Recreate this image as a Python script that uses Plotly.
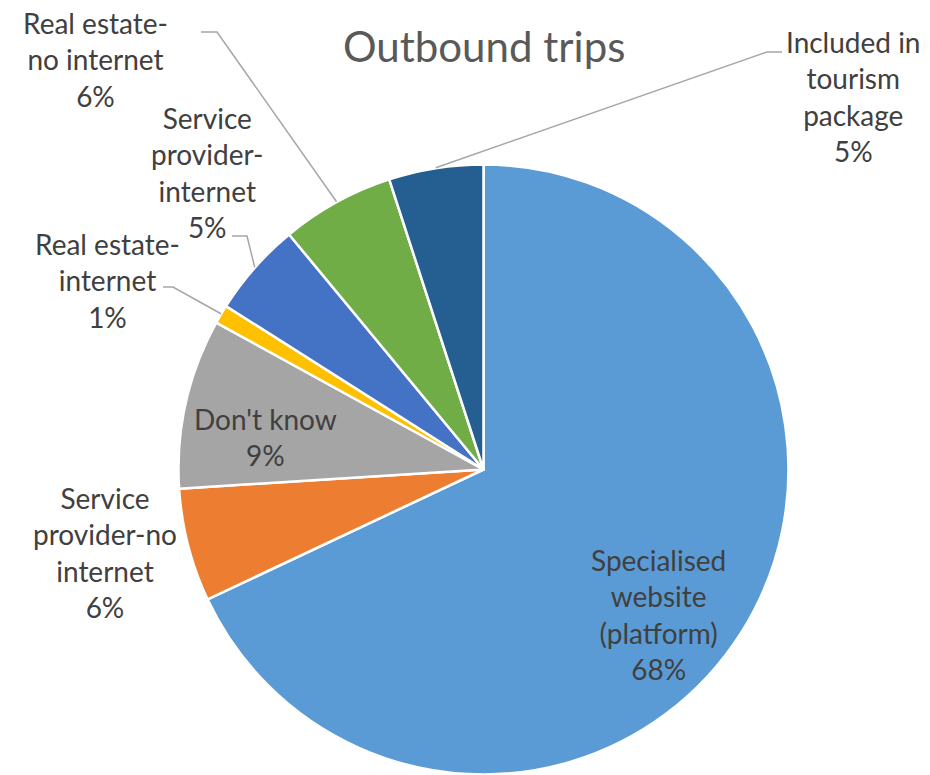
import math
import plotly.graph_objects as go

# ---- data ----
categories = [
    "Specialised website (platform)",
    "Service provider-no internet",
    "Don't know",
    "Real estate-internet",
    "Service provider-internet",
    "Real estate-no internet",
    "Included in tourism package",
]
values = [68, 6, 9, 1, 5, 6, 5]
label_lines = [
    ["Specialised", "website", "(platform)"],
    ["Service", "provider-no", "internet"],
    ["Don't know"],
    ["Real estate-", "internet"],
    ["Service", "provider-", "internet"],
    ["Real estate-", "no internet"],
    ["Included in", "tourism", "package"],
]
colors = ["#5B9BD5", "#ED7D31", "#A5A5A5", "#FFC000", "#4472C4", "#70AD47", "#255E91"]

W, H = 930, 775
FONT = "Lato"
TEXT_COLOR = "#404040"

# pie geometry (pixels)
cx, cy, R = 483.5, 469.0, 305.0

# label block centres (pixels) and leader-line label anchors
label_pos = {
    0: (658, 614),
    1: (105, 552),
    2: (265, 437),
    3: (107, 280),
    4: (207, 172),
    5: (95, 60),
    6: (853, 97),
}
leaders = {  # (start point, elbow point)
    3: ((163, 287), (173, 287)),
    4: ((232, 236), (247, 236)),
    5: ((201, 32), (217, 32)),
    6: ((782, 52), (767, 52)),
}

def px(x):
    return x / W

def py(y):
    return 1 - y / H

fig = go.Figure(
    go.Pie(
        labels=categories,
        values=values,
        sort=False,
        direction="clockwise",
        rotation=0,
        marker=dict(colors=colors, line=dict(color="white", width=2.5)),
        textinfo="none",
        hoverinfo="label+percent",
        domain=dict(x=[px(cx - R), px(cx + R)], y=[0, min(1.0, (H - cy + R) / H)]),
        showlegend=False,
    )
)

total = sum(values)
annotations = []
shapes = []
cum = 0
for i, v in enumerate(values):
    pct = round(100 * v / total)
    text = "<br>".join(label_lines[i] + [f"{pct}%"])
    lx, ly = label_pos[i]
    annotations.append(
        dict(
            x=px(lx), y=py(ly), xref="paper", yref="paper",
            text=text, showarrow=False, xanchor="center", yanchor="middle",
            align="center", font=dict(family=FONT, size=28, color=TEXT_COLOR),
        )
    )
    mid = (cum + v / 2) / total * 2 * math.pi
    cum += v
    if i in leaders:
        (sx, sy), (ex, ey) = leaders[i]
        tx = cx + R * math.sin(mid)
        ty = cy - R * math.cos(mid)
        path = f"M {px(sx)},{py(sy)} L {px(ex)},{py(ey)} L {px(tx)},{py(ty)}"
        shapes.append(
            dict(type="path", xref="paper", yref="paper", path=path,
                 line=dict(color="#A6A6A6", width=1.5))
        )

annotations.append(
    dict(
        x=px(484), y=py(46), xref="paper", yref="paper", text="Outbound trips",
        showarrow=False, xanchor="center", yanchor="middle",
        font=dict(family=FONT, size=42, color="#595959"),
    )
)

fig.update_layout(
    width=W, height=H,
    margin=dict(l=0, r=0, t=0, b=0),
    paper_bgcolor="white",
    plot_bgcolor="white",
    annotations=annotations,
    shapes=shapes,
)

fig.write_html("out.html")
